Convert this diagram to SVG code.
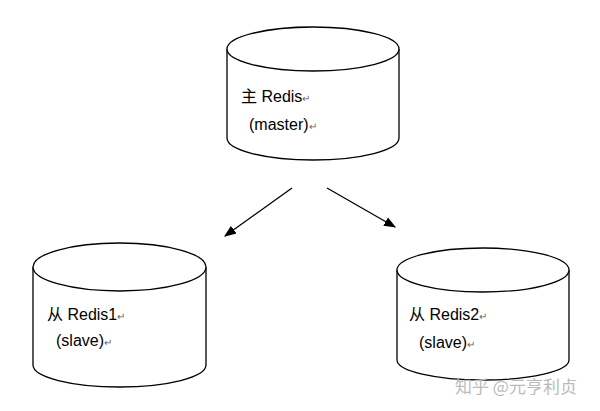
<svg xmlns="http://www.w3.org/2000/svg" width="600" height="411" viewBox="0 0 600 411">
<style>
.cyl{fill:#fff;stroke:#000;stroke-width:1.3}
.t{font-family:"Liberation Sans","Noto Sans CJK SC",sans-serif;font-size:16px;fill:#000}
.r{font-size:10px;fill:#666}
.c{stroke:#000;stroke-width:1.3;fill:none}
.wm{font-family:"Noto Sans CJK SC",sans-serif;font-size:17px;fill:#bbb}
</style>
<defs>
<marker id="ah" viewBox="0 0 10 10" refX="9" refY="5" markerWidth="12" markerHeight="12" markerUnits="userSpaceOnUse" orient="auto">
<path d="M0,1 L10,5 L0,9 Z" fill="#000"/>
</marker>
</defs>
<rect width="600" height="411" fill="#fff"/>
<g id="master">
<path class="cyl" d="M227,49 V138 A86,22 0 0 0 399,138 V49"/>
<ellipse class="cyl" cx="313" cy="49" rx="86" ry="22"/>
<text class="t" x="241" y="102">主 Redis<tspan class="r">↵</tspan></text>
<text class="t" x="249" y="130">(master)<tspan class="r">↵</tspan></text>
</g>
<g id="slave1">
<path class="cyl" d="M33,267 V365 A86.5,22 0 0 0 206,365 V267"/>
<ellipse class="cyl" cx="119.5" cy="267" rx="86.5" ry="24"/>
<text class="t" x="47" y="320">从 Redis1<tspan class="r">↵</tspan></text>
<text class="t" x="56" y="346">(slave)<tspan class="r">↵</tspan></text>
</g>
<g id="slave2">
<path class="cyl" d="M397,270 V360 A86,20 0 0 0 569,360 V270"/>
<ellipse class="cyl" cx="483" cy="270" rx="86" ry="22"/>
<text class="t" x="409" y="320">从 Redis2<tspan class="r">↵</tspan></text>
<text class="t" x="419" y="348">(slave)<tspan class="r">↵</tspan></text>
</g>
<g id="connectors">
<line class="c" x1="292" y1="188" x2="225" y2="236" marker-end="url(#ah)"/>
<line class="c" x1="327" y1="188" x2="395" y2="227" marker-end="url(#ah)"/>
</g>
<text class="wm" x="455" y="393">知乎 @元亨利贞</text>
</svg>
